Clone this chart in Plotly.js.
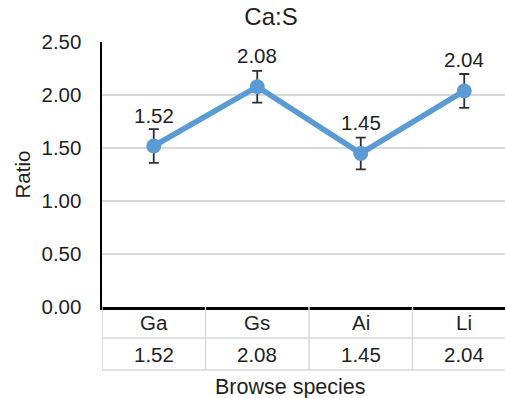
<!DOCTYPE html>
<html>
<head>
<meta charset="utf-8">
<script src="https://cdn.plot.ly/plotly-3.0.1.min.js"></script>
<style>
html, body { margin: 0; padding: 0; overflow: hidden; background: #fff; }
#chart { width: 520px; height: 398px; }
</style>
</head>
<body>
<div id="chart"></div>
<script>
// ---- data ----
const categories = ["Ga", "Gs", "Ai", "Li"];
const ratios = [1.52, 2.08, 1.45, 2.04];
const errors = [0.16, 0.15, 0.15, 0.16];
const ratioLabels = ["1.52", "2.08", "1.45", "2.04"];
const yTickVals = [0, 0.5, 1, 1.5, 2, 2.5];
const yTickText = ["0.00", "0.50", "1.00", "1.50", "2.00", "2.50"];
const chartTitle = "Ca:S";
const xTitle = "Browse species";
const yTitle = "Ratio";

// ---- layout geometry (pixels) ----
const W = 520, H = 398;
const mL = 102, mT = 42, mB = 91, mR = 4;
const plotH = H - mT - mB;      // 265
const plotW = W - mL - mR;      // 414
const py = px => -(px) / plotH; // px below the plot bottom -> paper y
const pxX = px => (px - mL) / plotW;

const font = "Liberation Sans, Arial, sans-serif";
const textColor = "#1f1f1f";
const gridColor = "#d9d9d9";
const row1 = 31, row2 = 63;     // table row bottoms below axis (px)
const fs = 20.5;

const trace = {
  x: categories,
  y: ratios,
  type: "scatter",
  mode: "lines+markers",
  line: { color: "#5b9bd5", width: 5.5 },
  marker: { color: "#5b9bd5", size: 15 },
  error_y: { type: "data", array: errors, visible: true, color: "#2e2e2e", thickness: 1.8, width: 5 },
  hoverinfo: "skip",
  cliponaxis: false
};

const annotations = [];
categories.forEach((c, i) => {
  annotations.push({ x: c, y: ratios[i], xref: "x", yref: "y", text: ratioLabels[i],
    showarrow: false, yshift: 31, font: { family: font, size: fs, color: textColor } });
  annotations.push({ x: c, y: py(row1 / 2), xref: "x", yref: "paper", text: c, showarrow: false,
    yanchor: "middle", font: { family: font, size: fs, color: textColor } });
  annotations.push({ x: c, y: py((row1 + row2) / 2), xref: "x", yref: "paper", text: ratioLabels[i],
    showarrow: false, yanchor: "middle", font: { family: font, size: fs, color: textColor } });
});
annotations.push({ x: pxX(290), y: py(80), xref: "paper", yref: "paper", text: xTitle, showarrow: false,
  yanchor: "middle", xanchor: "center", font: { family: font, size: 21.5, color: textColor } });
annotations.push({ x: pxX(22), y: 0.5, xref: "paper", yref: "paper", text: yTitle, showarrow: false,
  textangle: -90, xanchor: "center", yanchor: "middle", font: { family: font, size: fs, color: textColor } });

const shapes = [];
const lineStyle = { color: gridColor, width: 1.5 };
for (let k = 0; k <= categories.length; k++) {
  shapes.push({ type: "line", xref: "x", yref: "paper", x0: k - 0.5, x1: k - 0.5, y0: 0, y1: py(row2), line: lineStyle });
}
[row1, row2].forEach(r => {
  shapes.push({ type: "line", xref: "x", yref: "paper", x0: -0.5, x1: categories.length - 0.5, y0: py(r), y1: py(r), line: lineStyle });
});

const layout = {
  width: W, height: H,
  margin: { l: mL, r: mR, t: mT, b: mB },
  paper_bgcolor: "#fff", plot_bgcolor: "#fff",
  showlegend: false,
  title: { text: chartTitle, font: { family: font, size: 24, color: textColor },
    x: pxX(271), xref: "paper", xanchor: "center", y: 1 - 17 / H, yref: "container", yanchor: "middle" },
  xaxis: { type: "category", range: [-0.5, 3.5], showticklabels: false, ticks: "",
    showgrid: false, zeroline: false, showline: true, linecolor: "#000", linewidth: 2.5, fixedrange: true },
  yaxis: { range: [0, 2.502], tickvals: yTickVals, ticktext: yTickText, ticks: "",
    ticklabelstandoff: 14, tickfont: { family: font, size: fs, color: textColor },
    showgrid: true, gridcolor: gridColor, gridwidth: 1.5, zeroline: false,
    showline: true, linecolor: "#000", linewidth: 2.5, fixedrange: true },
  annotations: annotations,
  shapes: shapes
};

Plotly.newPlot("chart", [trace], layout, { displayModeBar: false, staticPlot: true });
</script>
</body>
</html>
